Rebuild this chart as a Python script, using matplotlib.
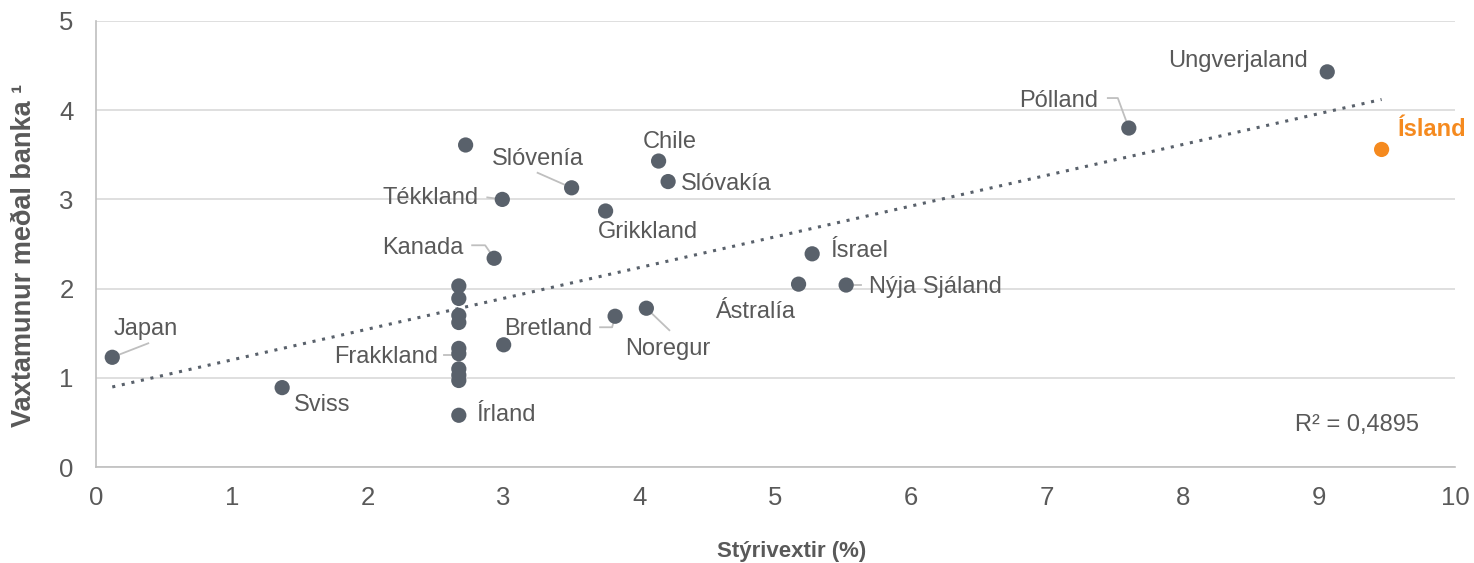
import matplotlib.pyplot as plt
import numpy as np

plt.rcParams['font.family'] = ['Liberation Sans', 'DejaVu Sans']

# data
countries = ["Japan", "Sviss", "Írland",
             "", "", "", "", "", "Frakkland", "", "", "",
             "Tékkland", "Kanada", "", "Slóvenía", "Chile", "Slóvakía",
             "Grikkland", "Bretland", "Noregur", "",
             "Ástralía", "Ísrael", "Nýja Sjáland",
             "Pólland", "Ungverjaland", "Ísland"]
policy_rate = [0.12, 1.37, 2.67,
               2.67, 2.67, 2.67, 2.67, 2.67, 2.67, 2.67, 2.67, 2.67,
               2.99, 2.93, 2.72, 3.50, 4.14, 4.21,
               3.75, 3.82, 4.05, 3.00,
               5.17, 5.27, 5.52,
               7.60, 9.06, 9.46]
margin = [1.23, 0.89, 0.58,
          2.03, 1.89, 1.70, 1.62, 1.33, 1.27, 1.10, 1.03, 0.97,
          3.00, 2.34, 3.61, 3.13, 3.43, 3.20,
          2.87, 1.69, 1.78, 1.37,
          2.05, 2.39, 2.04,
          3.80, 4.43, 3.56]
highlight = "Ísland"
r2_text = "R² = 0,4895"

GREY = "#59616b"
TXT = "#595959"
ORANGE = "#f58a1f"
LEAD = "#bfbfbf"

# label placement: offset in pixels (dx, dy up), alignment, leader vertices
labels = {
    "Japan": (33, 28, "center", [(0, 0), (36, 14)]),
    "Sviss": (40, -17, "center", None),
    "Írland": (17, 0, "left", None),
    "Frakkland": (-21, -3, "right", [(-15, -1), (0, -1), (0, 0)]),
    "Kanada": (-31, 10, "right", [(-22, 13), (-9, 13), (0, 0)]),
    "Tékkland": (-24, 1, "right", [(-15, 2), (0, 0)]),
    "Slóvenía": (-34, 29, "center", [(-34, 15), (0, 0)]),
    "Chile": (11, 19, "center", None),
    "Slóvakía": (13, -2, "left", None),
    "Grikkland": (42, -21, "center", None),
    "Bretland": (-23, -13, "right", [(-15, -11), (-3, -11), (0, 0)]),
    "Noregur": (21, -41, "center", [(0, 0), (23, -22)]),
    "Ástralía": (-44, -28, "center", None),
    "Ísrael": (18, 3, "left", None),
    "Nýja Sjáland": (23, -2, "left", [(0, 0), (15, 0)]),
    "Pólland": (-31, 27, "right", [(-21, 30), (-11, 30), (0, 0)]),
    "Ungverjaland": (-19, 11, "right", None),
    "Ísland": (16, 20, "left", None),
}

fig = plt.figure(figsize=(14.74, 5.63), dpi=100)
ax = fig.add_axes([0.0651, 0.1705, 0.922, 0.7922])

ax.set_xlim(0, 10)
ax.set_ylim(0, 5)
ax.set_xticks(range(0, 11))
ax.set_yticks(range(0, 6))
ax.tick_params(length=0, labelsize=18.5, labelcolor=TXT)
ax.tick_params(axis="y", pad=16)
ax.tick_params(axis="x", pad=14)
ax.grid(axis="y", color="#d9d9d9", linewidth=1.2)
ax.set_axisbelow(True)
for s in ["top", "right"]:
    ax.spines[s].set_visible(False)
for s in ["left", "bottom"]:
    ax.spines[s].set_color("#bfbfbf")
    ax.spines[s].set_linewidth(1.2)

x = np.array(policy_rate)
y = np.array(margin)
cols = [ORANGE if c == highlight else GREY for c in countries]
ax.scatter(x, y, s=120, c=cols, zorder=4, linewidths=0)

# linear trendline
k, b = np.polyfit(x, y, 1)
xs = np.array([x.min(), x.max()])
ax.plot(xs, k * xs + b, linestyle=(0, (1, 2.2)), color=GREY, linewidth=2.2, zorder=3)

# pixel -> data scale
sx = 1 / (0.922 * 1474 / 10)
sy = 1 / (0.7922 * 563 / 5)

for name, xv, yv in zip(countries, x, y):
    if name not in labels:
        continue
    dx, dy, ha, lead = labels[name]
    bold = name == highlight
    ax.text(xv + dx * sx, yv + dy * sy, name, ha=ha, va="center",
            fontsize=17, color=ORANGE if bold else TXT,
            fontweight="bold" if bold else "normal", zorder=5)
    if lead:
        ax.plot([xv + p[0] * sx for p in lead], [yv + p[1] * sy for p in lead],
                color=LEAD, linewidth=1.3, zorder=2)

ax.text(9.28, 0.47, r2_text, ha="center", va="center", fontsize=17, color=TXT)

fig.text(792 / 1474, 1 - 551 / 563, "Stýrivextir (%)", ha="center", va="center",
         fontsize=16, fontweight="bold", color=TXT)
fig.text(24 / 1474, 1 - 255 / 563, "Vaxtamunur meðal banka ¹", ha="center", va="center",
         rotation=90, fontsize=19.5, fontweight="bold", color=TXT)

fig.savefig("out.png", dpi=100)
